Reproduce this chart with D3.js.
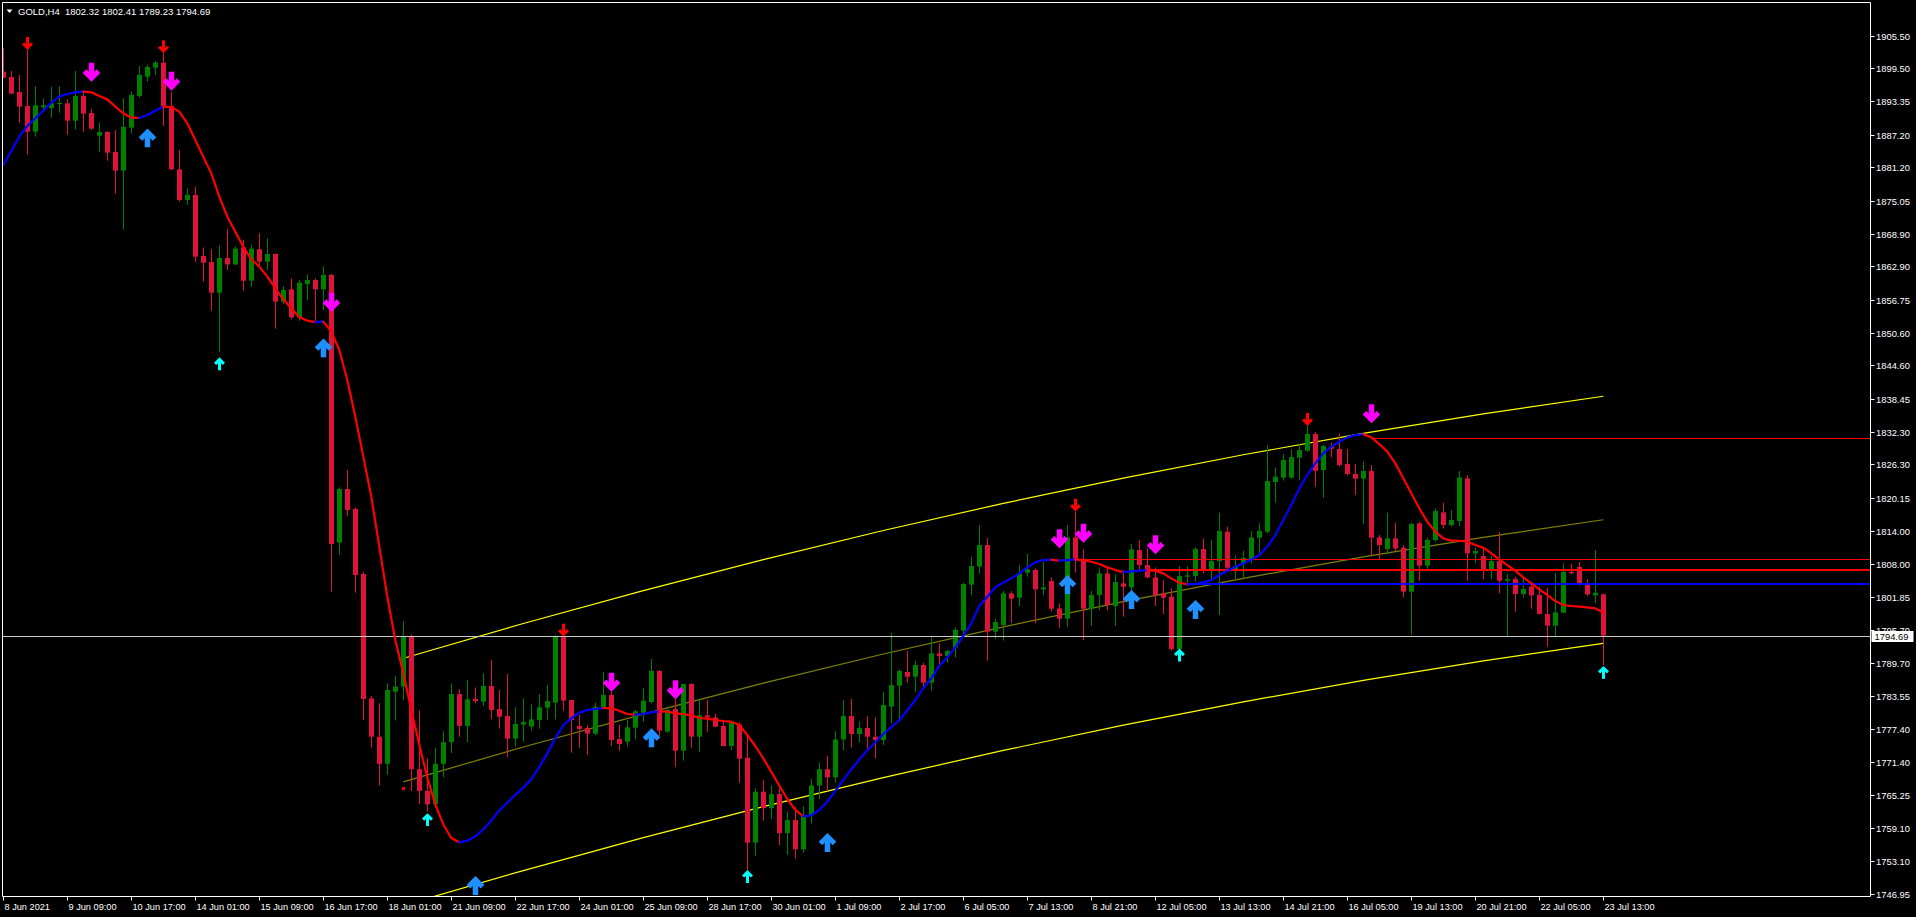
<!DOCTYPE html>
<html><head><meta charset="utf-8">
<script src="https://cdn.jsdelivr.net/npm/d3@7"></script>
<style>html,body{margin:0;padding:0;background:#000;overflow:hidden}svg{display:block}</style>
</head><body>
<script>
// ---------- DATA ----------
const symbolTitle = "GOLD,H4";
const lastQuote = ["1802.32","1802.41","1789.23","1794.69"];

const opens = [1898.86,1897.87,1895.10,1892.51,1887.77,1892.27,1892.14,1892.94,1893.01,1889.80,
1894.36,1891.22,1887.03,1887.71,1884.01,1880.57,1888.51,1894.36,1897.93,1899.59,
1900.52,1892.51,1880.81,1875.15,1876.07,1864.80,1863.69,1858.03,1864.43,1863.26,
1866.40,1860.24,1866.04,1863.76,1865.18,1856.37,1858.65,1853.48,1859.63,1860.37,
1858.65,1861.30,1811.85,1821.76,1818.07,1806.06,1783.09,1776.00,1771.00,1784.32,
1785.25,1794.48,1770.00,1766.00,1763.50,1771.00,1775.00,1783.89,1778.00,1782.97,
1782.47,1785.37,1781.12,1779.83,1775.64,1778.23,1777.86,1779.09,1781.37,1782.29,
1794.49,1782.79,1777.98,1777.61,1776.57,1781.43,1783.71,1775.58,1775.09,1777.67,
1780.45,1782.42,1788.14,1776.94,1781.12,1773.42,1785.74,1776.01,1779.95,1779.58,
1777.98,1774.29,1778.29,1772.13,1756.43,1765.85,1762.80,1765.40,1758.20,1760.60,
1755.20,1761.50,1767.00,1770.00,1768.50,1775.50,1779.83,1776.50,1777.60,1776.00,
1775.40,1781.55,1785.43,1787.96,1787.09,1789.25,1785.99,1791.40,1790.91,1792.45,
1795.59,1804.09,1807.42,1811.42,1795.41,1796.64,1802.48,1801.68,1806.30,1806.79,
1803.22,1804.76,1799.71,1797.80,1812.83,1808.64,1799.65,1802.17,1806.18,1800.14,
1804.33,1803.59,1810.49,1807.72,1805.44,1802.48,1801.87,1792.20,1805.56,1805.69,
1810.67,1806.79,1808.46,1813.87,1806.92,1807.90,1808.64,1812.77,1813.88,1823.05,
1823.85,1823.85,1827.55,1828.84,1831.92,1825.27,1829.58,1829.15,1826.38,1824.53,
1823.67,1825.08,1812.83,1810.67,1812.65,1810.92,1802.79,1815.42,1807.60,1812.34,
1817.45,1815.11,1815.85,1823.73,1809.87,1809.38,1806.80,1808.46,1804.82,1805.13,
1802.36,1803.72,1802.18,1798.67,1796.51,1798.91,1806.43,1807.35,1804.02,1802.12,
1802.32];

const highs = [1903.17,1898.98,1898.24,1902.86,1896.21,1893.93,1896.08,1896.21,1893.74,1898.98,
1895.28,1892.02,1889.43,1887.89,1888.08,1893.93,1895.16,1899.90,1900.21,1900.83,
1902.24,1895.16,1884.38,1877.30,1877.61,1866.40,1866.03,1866.77,1869.73,1866.53,
1867.76,1866.77,1868.99,1868.07,1865.30,1859.26,1860.68,1860.37,1861.42,1860.68,
1862.84,1861.50,1822.07,1825.27,1818.31,1806.49,1783.52,1782.17,1785.86,1787.22,
1797.38,1794.91,1780.90,1772.00,1774.00,1777.00,1785.86,1784.75,1786.48,1785.12,
1787.71,1790.17,1784.63,1787.59,1781.43,1783.09,1781.98,1783.89,1785.56,1794.79,
1794.61,1782.79,1780.01,1778.11,1782.29,1788.02,1784.32,1778.17,1779.09,1780.94,
1784.94,1790.36,1788.33,1781.55,1782.91,1785.74,1785.90,1782.91,1782.79,1780.20,
1779.09,1778.78,1778.60,1776.01,1766.50,1768.00,1767.00,1766.50,1762.20,1763.00,
1763.20,1768.20,1771.20,1772.50,1777.00,1782.78,1782.97,1778.80,1779.83,1779.58,
1784.26,1795.10,1788.45,1791.90,1790.05,1789.68,1794.61,1793.25,1792.02,1796.21,
1804.46,1809.26,1815.11,1812.71,1797.81,1802.92,1802.91,1807.72,1809.75,1807.10,
1808.33,1805.44,1800.64,1815.11,1817.57,1810.61,1802.91,1807.10,1807.10,1805.99,
1806.79,1811.60,1812.34,1810.80,1807.29,1804.95,1803.41,1807.53,1807.53,1810.98,
1812.64,1812.34,1817.38,1814.80,1809.50,1810.36,1814.00,1815.42,1829.89,1825.76,
1828.22,1829.09,1830.07,1833.40,1832.29,1829.89,1830.32,1832.04,1829.15,1826.38,
1826.81,1826.19,1813.26,1817.39,1815.54,1811.41,1815.54,1815.72,1812.77,1818.19,
1819.23,1817.88,1825.08,1824.35,1810.92,1810.92,1809.38,1813.82,1806.06,1805.56,
1805.56,1804.02,1803.72,1803.53,1806.18,1808.03,1807.90,1808.27,1805.07,1810.49,
1802.41];

const lows = [1897.62,1894.70,1889.43,1883.58,1886.85,1891.47,1890.36,1891.28,1887.22,1888.20,
1887.77,1888.08,1884.08,1882.41,1876.32,1869.73,1887.46,1894.05,1897.01,1898.24,
1888.82,1880.69,1874.84,1874.22,1863.75,1860.06,1854.70,1847.07,1862.22,1863.14,
1858.40,1859.14,1862.84,1862.22,1851.38,1855.94,1853.11,1852.86,1856.68,1852.68,
1854.83,1802.80,1809.57,1816.77,1802.61,1779.09,1774.00,1767.00,1769.00,1779.00,
1782.78,1766.00,1763.50,1762.20,1762.80,1768.50,1773.00,1776.00,1775.00,1782.17,
1781.67,1779.21,1777.50,1772.19,1774.16,1775.09,1777.12,1777.49,1779.09,1779.21,
1780.81,1773.05,1773.98,1772.62,1776.32,1781.25,1774.29,1773.42,1774.16,1775.52,
1778.78,1782.17,1776.14,1776.75,1770.47,1771.58,1773.98,1773.24,1776.94,1777.74,
1774.16,1773.55,1767.51,1751.40,1754.00,1760.50,1760.80,1756.00,1754.20,1753.50,
1754.60,1760.00,1764.50,1766.00,1767.50,1773.50,1774.00,1775.00,1773.50,1772.00,
1774.50,1778.50,1779.00,1785.99,1784.32,1785.12,1784.51,1789.06,1789.68,1790.67,
1794.48,1802.18,1806.18,1790.05,1794.11,1793.74,1797.06,1800.14,1805.56,1796.94,
1802.17,1799.10,1796.14,1796.32,1806.30,1793.86,1796.45,1799.40,1799.40,1796.45,
1798.17,1802.48,1806.79,1805.25,1800.14,1798.66,1791.89,1792.01,1804.02,1804.64,
1806.18,1804.82,1798.48,1806.79,1805.07,1805.25,1808.02,1809.87,1813.57,1819.23,
1823.30,1823.73,1823.42,1828.66,1822.19,1820.16,1827.61,1825.88,1824.28,1820.65,
1815.29,1809.57,1808.77,1809.69,1810.31,1801.75,1794.79,1804.82,1806.80,1812.03,
1814.49,1814.80,1814.92,1804.82,1808.15,1805.07,1805.07,1802.48,1794.60,1799.10,
1801.68,1799.65,1798.67,1792.63,1794.36,1798.91,1806.06,1803.90,1801.99,1800.64,
1789.23];

const closes = [1897.75,1894.79,1892.39,1887.77,1892.64,1892.64,1893.01,1893.07,1889.80,1894.36,
1891.10,1888.33,1887.71,1883.89,1880.57,1888.63,1894.54,1898.24,1899.72,1900.52,
1892.51,1880.81,1875.15,1876.07,1864.68,1863.57,1858.03,1864.43,1863.26,1866.16,
1860.24,1866.16,1863.76,1865.18,1856.37,1858.53,1853.48,1859.88,1860.37,1858.65,
1861.30,1811.60,1821.76,1817.88,1805.87,1782.97,1776.00,1771.00,1784.63,1785.25,
1794.48,1770.00,1766.00,1763.50,1771.00,1775.00,1783.89,1778.00,1782.90,1782.60,
1785.37,1780.93,1779.70,1775.64,1778.35,1778.72,1779.21,1781.43,1782.60,1794.49,
1782.66,1779.09,1777.43,1776.57,1781.55,1783.71,1775.40,1774.66,1777.74,1780.69,
1782.66,1788.14,1777.12,1780.94,1773.42,1785.74,1776.01,1779.95,1779.58,1777.86,
1774.29,1778.66,1771.95,1756.43,1765.85,1762.80,1765.40,1758.20,1760.60,1755.20,
1761.50,1767.00,1770.00,1768.50,1775.50,1779.83,1776.50,1777.60,1776.00,1775.40,
1781.86,1785.55,1788.14,1787.09,1789.25,1785.99,1791.40,1790.91,1791.83,1795.72,
1804.21,1807.54,1811.42,1795.41,1797.19,1802.49,1801.50,1806.18,1806.92,1803.22,
1803.59,1799.65,1797.80,1812.83,1808.64,1799.65,1802.17,1806.18,1800.33,1804.58,
1803.71,1810.61,1807.72,1805.44,1802.11,1801.68,1792.20,1805.69,1805.81,1810.67,
1806.67,1808.46,1814.00,1807.22,1807.53,1809.01,1812.83,1814.00,1823.24,1824.04,
1827.12,1827.67,1828.96,1831.92,1825.15,1829.70,1829.21,1826.19,1824.53,1823.67,
1825.08,1812.77,1811.41,1812.65,1810.80,1802.79,1815.29,1807.60,1812.34,1817.69,
1815.11,1816.03,1823.91,1809.87,1810.31,1806.80,1808.46,1804.82,1805.13,1802.36,
1803.29,1802.12,1798.67,1796.51,1798.97,1806.49,1806.18,1804.21,1802.30,1802.61,
1794.69];

// smoothed moving average (one value per bar)
const maValues = [1881.61,1884.20,1886.85,1888.82,1890.24,1891.65,1893.13,1894.24,1894.73,1895.04,
1895.16,1895.04,1894.36,1893.74,1892.39,1891.16,1890.36,1890.30,1890.85,1891.65,
1892.39,1892.30,1891.47,1889.31,1886.23,1883.15,1880.07,1875.76,1872.07,1869.30,
1866.53,1864.20,1862.84,1860.99,1858.83,1856.80,1855.14,1853.48,1852.86,1852.60,
1852.68,1850.83,1847.44,1841.90,1835.13,1827.74,1820.35,1811.11,1801.87,1793.87,
1787.71,1780.93,1774.50,1768.50,1763.50,1759.80,1757.30,1756.50,1756.80,1757.60,
1758.90,1760.50,1762.40,1763.80,1765.23,1766.60,1768.13,1770.40,1772.93,1775.70,
1778.17,1779.40,1780.45,1780.94,1781.12,1781.31,1781.25,1780.81,1780.20,1780.08,
1780.20,1780.51,1780.69,1780.63,1780.32,1780.20,1779.95,1779.46,1779.34,1779.09,
1778.91,1778.78,1778.17,1776.32,1774.29,1772.00,1769.50,1767.00,1764.50,1762.50,
1761.30,1761.50,1762.50,1764.00,1766.00,1768.00,1770.00,1771.80,1773.50,1775.00,
1776.50,1777.80,1779.00,1780.90,1782.78,1784.94,1786.79,1789.06,1790.67,1792.51,
1794.61,1796.95,1800.15,1801.87,1803.60,1804.45,1805.25,1806.17,1807.28,1808.21,
1808.64,1808.70,1808.52,1808.64,1808.76,1808.64,1808.33,1807.90,1807.28,1806.79,
1806.42,1806.55,1806.67,1806.73,1806.67,1806.17,1805.25,1804.45,1804.14,1804.21,
1804.51,1804.94,1805.87,1806.67,1807.41,1808.02,1808.70,1809.57,1811.11,1813.26,
1816.03,1818.80,1821.88,1824.34,1826.50,1828.35,1829.58,1830.50,1831.30,1831.74,
1831.86,1831.30,1830.07,1828.66,1826.50,1823.73,1820.96,1818.19,1815.72,1813.88,
1812.65,1812.21,1812.20,1812.03,1811.41,1810.92,1809.87,1808.77,1807.72,1806.67,
1805.44,1804.33,1803.22,1802.18,1801.07,1800.33,1800.15,1800.02,1799.90,1799.71,
1798.97];

// regression channel, sampled at these bars
const channelBars   = [50, 65, 80, 95, 110, 125, 140, 155, 170, 185, 200];
const channelUpper  = [1790.49,1796.92,1803.00,1808.73,1814.10,1819.11,1823.78,1828.09,1832.04,1835.65,1838.90];
const channelMiddle = [1767.67,1774.10,1780.18,1785.91,1791.28,1796.29,1800.96,1805.27,1809.22,1812.83,1816.08];
const channelLower  = [1744.85,1751.28,1757.36,1763.09,1768.46,1773.47,1778.14,1782.45,1786.40,1790.01,1793.26];

// horizontal level lines
const levelPrices   = [1831.12, 1808.77, 1806.73, 1804.15];
const levelStartBar = [171, 134, 143, 148];
const levelColors   = ["#ff0000", "#ff0000", "#ff0000", "#0000ff"];
const bidPrice = 1794.69;

// signal arrows (bar index, price at arrow tip)
const sellSmallBars   = [3, 20, 70, 134, 163];
const sellSmallPrices = [1902.86, 1902.25, 1794.48, 1817.57, 1833.40];
const sellBigBars     = [11, 21, 41, 76, 84, 132, 135, 144, 171];
const sellBigPrices   = [1897.00, 1895.34, 1854.51, 1784.30, 1782.91, 1810.81, 1811.84, 1809.70, 1833.90];
const buyBigBars      = [18, 40, 59, 81, 103, 133, 141, 149];
const buyBigPrices    = [1888.39, 1849.60, 1750.27, 1777.56, 1758.22, 1805.88, 1803.10, 1801.26];
const buySmallBars    = [27, 53, 93, 147, 200];
const buySmallPrices  = [1846.10, 1761.90, 1751.40, 1792.30, 1789.10];
const dotBars = [50];
const dotPrices = [1766.42];

// axes
const priceTickLabels = ["1905.50","1899.50","1893.35","1887.20","1881.20","1875.05","1868.90","1862.90","1856.75",
"1850.60","1844.60","1838.45","1832.30","1826.30","1820.15","1814.00","1808.00","1801.85","1795.70","1789.70",
"1783.55","1777.40","1771.40","1765.25","1759.10","1753.10","1746.95"];
const timeLabelBars = [0,8,16,24,32,40,48,56,64,72,80,88,96,104,112,120,128,136,144,152,160,168,176,184,192,200];
const timeLabels = ["8 Jun 2021","9 Jun 09:00","10 Jun 17:00","14 Jun 01:00","15 Jun 09:00","16 Jun 17:00",
"18 Jun 01:00","21 Jun 09:00","22 Jun 17:00","24 Jun 01:00","25 Jun 09:00","28 Jun 17:00","30 Jun 01:00",
"1 Jul 09:00","2 Jul 17:00","6 Jul 05:00","7 Jul 13:00","8 Jul 21:00","12 Jul 05:00","13 Jul 13:00",
"14 Jul 21:00","16 Jul 05:00","19 Jul 13:00","20 Jul 21:00","22 Jul 05:00","23 Jul 13:00"];

// ---------- DRAWING ----------
const W = 1916, H = 917;
const AX_RIGHT = 1870.5, AX_BOTTOM = 896.5;
const FONT = "'Liberation Sans', Arial, sans-serif";

const x = d3.scaleLinear().domain([0, 200]).range([3.3, 1603.3]);
const y = d3.scaleLinear().domain([1746.95, 1905.50]).range([894, 35.7]);
const px = i => Math.floor(x(i)) + 0.5;

const svg = d3.select("body").append("svg")
  .attr("width", W).attr("height", H)
  .style("background", "#000");

const defs = svg.append("defs");
defs.append("clipPath").attr("id", "plotclip")
  .append("rect").attr("x", 3).attr("y", 3).attr("width", AX_RIGHT - 3).attr("height", AX_BOTTOM - 3);

const plot = svg.append("g").attr("clip-path", "url(#plotclip)");

// regression channel
const chLine = d3.line().x(d => x(d[0])).y(d => y(d[1])).curve(d3.curveNatural);
[[channelUpper, "#ffff00"], [channelMiddle, "#808000"], [channelLower, "#ffff00"]].forEach(([vals, col]) => {
  plot.append("path")
    .attr("d", chLine(channelBars.map((b, k) => [b, vals[k]])))
    .attr("fill", "none").attr("stroke", col).attr("stroke-width", 1.2);
});

// candles
const bull = "#008000", bear = "#dc143c";
const cg = plot.append("g");
opens.forEach((o, i) => {
  const c = closes[i], hi = highs[i], lo = lows[i];
  const col = c >= o ? bull : bear;
  const cx = px(i);
  cg.append("line")
    .attr("x1", cx).attr("x2", cx)
    .attr("y1", y(hi)).attr("y2", y(lo))
    .attr("stroke", col).attr("stroke-width", 1);
  const yt = y(Math.max(o, c)), yb = y(Math.min(o, c));
  cg.append("rect")
    .attr("x", cx - 2.5).attr("width", 5)
    .attr("y", yt).attr("height", Math.max(1, yb - yt))
    .attr("fill", col);
});

// bid line
plot.append("line")
  .attr("x1", 3).attr("x2", AX_RIGHT)
  .attr("y1", Math.round(y(bidPrice)) + 0.5).attr("y2", Math.round(y(bidPrice)) + 0.5)
  .attr("stroke", "#c8c8c8").attr("stroke-width", 1);

// level lines
levelPrices.forEach((p, k) => {
  const w = k >= 2 ? 2 : 1;
  const yy = Math.round(y(p)) + (w === 1 ? 0.5 : 0);
  plot.append("line")
    .attr("x1", px(levelStartBar[k])).attr("x2", AX_RIGHT)
    .attr("y1", yy).attr("y2", yy)
    .attr("stroke", levelColors[k]).attr("stroke-width", w);
});

// moving average coloured by direction
const runs = [];
let cur = null;
for (let i = 1; i < maValues.length; i++) {
  const col = maValues[i] > maValues[i - 1] ? "#0000ff" : "#ff0000";
  if (!cur || cur.col !== col) { cur = { col, pts: [i - 1] }; runs.push(cur); }
  cur.pts.push(i);
}
const maLine = d3.line().x(i => x(i)).y(i => y(maValues[i]));
runs.forEach(r => {
  plot.append("path").attr("d", maLine(r.pts))
    .attr("fill", "none").attr("stroke", r.col).attr("stroke-width", 2.2)
    .attr("stroke-linejoin", "round").attr("stroke-linecap", "round");
});

// red dot
dotBars.forEach((b, k) => {
  plot.append("rect").attr("x", px(b) - 1.5).attr("y", y(dotPrices[k]) - 1.5)
    .attr("width", 3).attr("height", 3).attr("fill", "#ff0000");
});

// arrows
function drawArrow(g, cx, tip, dir, big, color) {
  // dir = 1 : pointing down (tip at bottom), -1 : pointing up
  const h = big ? 19 : 13, half = big ? 7 : 4.4, sw = big ? 5.5 : 3, vw = big ? 5 : 3;
  const vy = tip - dir * (big ? 3.6 : 2.2);
  const g2 = g.append("g");
  g2.append("line").attr("x1", cx).attr("x2", cx)
    .attr("y1", tip - dir * h).attr("y2", vy)
    .attr("stroke", color).attr("stroke-width", sw);
  g2.append("path")
    .attr("d", `M${cx - half},${vy - dir * half} L${cx},${vy} L${cx + half},${vy - dir * half}`)
    .attr("fill", "none").attr("stroke", color).attr("stroke-width", vw)
    .attr("stroke-linejoin", "miter").attr("stroke-miterlimit", 4);
}
const ag = plot.append("g");
sellBigBars.forEach((b, k) => drawArrow(ag, px(b), y(sellBigPrices[k]), 1, true, "#ff00ff"));
sellSmallBars.forEach((b, k) => drawArrow(ag, px(b), y(sellSmallPrices[k]), 1, false, "#ff0000"));
buyBigBars.forEach((b, k) => drawArrow(ag, px(b), y(buyBigPrices[k]), -1, true, "#1e90ff"));
buySmallBars.forEach((b, k) => drawArrow(ag, px(b), y(buySmallPrices[k]), -1, false, "#00ffff"));

// frame
svg.append("path")
  .attr("d", `M2.5,${AX_BOTTOM} L2.5,2.5 L${AX_RIGHT},2.5 L${AX_RIGHT},${AX_BOTTOM} Z`)
  .attr("fill", "none").attr("stroke", "#ffffff").attr("stroke-width", 1);

// price axis
const by = Math.round(y(bidPrice));
defs.append("clipPath").attr("id", "bidclip")
  .append("rect").attr("x", AX_RIGHT).attr("y", 0).attr("width", 60).attr("height", by - 5);
const pa = svg.append("g");
priceTickLabels.forEach(t => {
  const yy = Math.round(y(+t)) + 0.5;
  pa.append("line").attr("x1", AX_RIGHT).attr("x2", AX_RIGHT + 4).attr("y1", yy).attr("y2", yy)
    .attr("stroke", "#fff");
  const covered = Math.abs(yy - by) < 9;
  pa.append("text").attr("x", AX_RIGHT + 5.5).attr("y", yy + 3.4)
    .attr("clip-path", covered ? "url(#bidclip)" : null)
    .attr("fill", "#fff").attr("font-family", FONT).attr("font-size", 9.4).text(t);
});
// bid box
pa.append("rect").attr("x", AX_RIGHT + 1).attr("y", by - 5).attr("width", 42).attr("height", 11).attr("fill", "#fff");
pa.append("text").attr("x", AX_RIGHT + 4).attr("y", by + 3.8)
  .attr("fill", "#000").attr("font-family", FONT).attr("font-size", 9.4).text(bidPrice.toFixed(2));

// time axis
const ta = svg.append("g");
timeLabelBars.forEach((b, k) => {
  const xx = px(b);
  ta.append("line").attr("x1", xx).attr("x2", xx).attr("y1", AX_BOTTOM).attr("y2", AX_BOTTOM + 4)
    .attr("stroke", "#fff");
  ta.append("text").attr("x", xx + 1).attr("y", AX_BOTTOM + 13.5)
    .attr("fill", "#fff").attr("font-family", FONT).attr("font-size", 9.2).text(timeLabels[k]);
});

// title
svg.append("path").attr("d", "M6.5,9.5 L12.5,9.5 L9.5,13 Z").attr("fill", "#fff");
svg.append("text").attr("x", 18).attr("y", 14.5)
  .attr("fill", "#fff").attr("font-family", FONT).attr("font-size", 9.5)
  .attr("xml:space", "preserve")
  .text(symbolTitle + "  " + lastQuote.join(" "));
</script>
</body></html>
